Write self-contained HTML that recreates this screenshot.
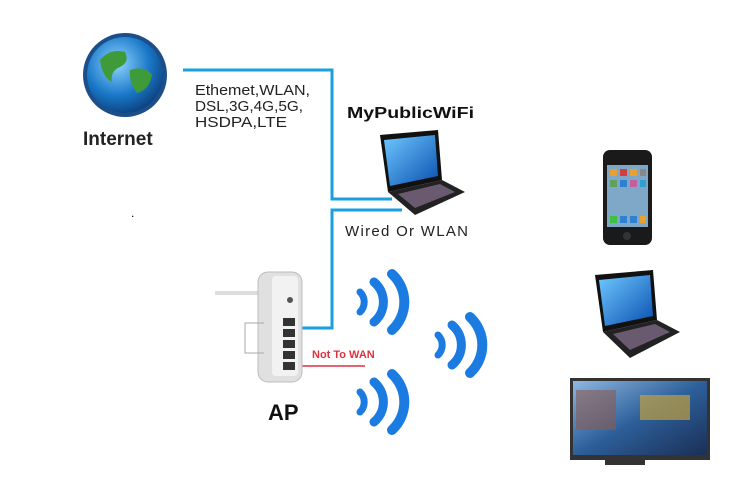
<!DOCTYPE html>
<html><head><style>
body{margin:0;background:#fff;}
svg{display:block;font-family:"Liberation Sans",sans-serif;}
</style></head><body>
<svg width="750" height="485" viewBox="0 0 750 485">
<defs>
<radialGradient id="g" cx="0.4" cy="0.35" r="0.7"><stop offset="0" stop-color="#8fd4ff"/><stop offset="0.6" stop-color="#1a78c8"/><stop offset="1" stop-color="#0b3d7a"/></radialGradient>
<linearGradient id="scr" x1="0" y1="0" x2="1" y2="1"><stop offset="0" stop-color="#6ec8ff"/><stop offset="1" stop-color="#0a4fb0"/></linearGradient>
<linearGradient id="tv" x1="0" y1="0" x2="1" y2="1"><stop offset="0" stop-color="#8fb8e0"/><stop offset="0.5" stop-color="#2d5f9a"/><stop offset="1" stop-color="#1a2f55"/></linearGradient>
</defs>
<circle cx="125" cy="75" r="42" fill="#1c4f8a"/>
<circle cx="125" cy="75" r="38" fill="url(#g)"/>
<path d="M100 60 q10-12 25-8 q5 10-5 15 q-10 4-8 15 q-10-5-12-22z M130 70 q15-5 22 5 q-3 15-15 18 q-8-10-7-23z" fill="#3f9a3a"/>
<text x="83" y="145" font-size="19" font-weight="bold" fill="#222">Internet</text>
<polyline points="183,70 332,70 332,199 392,199" fill="none" stroke="#1aa0e0" stroke-width="3"/>
<polyline points="402,210 332,210 332,328 290,328" fill="none" stroke="#1aa0e0" stroke-width="3"/>
<line x1="290" y1="366" x2="365" y2="366" stroke="#e03040" stroke-width="1.5"/>
<g font-size="15" fill="#222">
<text x="195" y="95" textLength="115" lengthAdjust="spacingAndGlyphs">Ethemet,WLAN,</text>
<text x="195" y="111" textLength="108" lengthAdjust="spacingAndGlyphs">DSL,3G,4G,5G,</text>
<text x="195" y="127" textLength="92" lengthAdjust="spacingAndGlyphs">HSDPA,LTE</text>
</g>
<text x="347" y="118" font-size="16" font-weight="bold" fill="#111" textLength="127" lengthAdjust="spacingAndGlyphs">MyPublicWiFi</text>
<text x="345" y="236" font-size="15" fill="#222" textLength="123" lengthAdjust="spacing">Wired  Or  WLAN</text>
<text x="131" y="217" font-size="12">.</text>
<g transform="translate(370,130)">
<polygon points="10,5 68,0 72,50 18,62" fill="#111"/>
<polygon points="14,10 65,5 68,46 20,56" fill="url(#scr)"/>
<polygon points="18,62 72,50 95,62 45,85" fill="#222"/>
<polygon points="28,64 70,54 85,62 45,78" fill="#6a5a70"/>
</g>
<g transform="translate(585,270)">
<polygon points="10,5 68,0 72,50 18,62" fill="#111"/>
<polygon points="14,10 65,5 68,46 20,56" fill="url(#scr)"/>
<polygon points="18,62 72,50 95,62 45,88" fill="#222"/>
<polygon points="28,64 70,54 85,62 45,80" fill="#6a5a70"/>
</g>
<rect x="603" y="150" width="49" height="95" rx="7" fill="#1a1a1a"/>
<rect x="607" y="165" width="41" height="62" fill="#7fa8c8"/>
<g fill="#e8a030"><rect x="610" y="169" width="7" height="7"/><rect x="620" y="169" width="7" height="7" fill="#d04040"/><rect x="630" y="169" width="7" height="7"/><rect x="640" y="169" width="6" height="7" fill="#888"/>
<rect x="610" y="180" width="7" height="7" fill="#60a060"/><rect x="620" y="180" width="7" height="7" fill="#3080d0"/><rect x="630" y="180" width="7" height="7" fill="#c060a0"/><rect x="640" y="180" width="6" height="7" fill="#30a0d0"/>
<rect x="610" y="216" width="7" height="7" fill="#40c040"/><rect x="620" y="216" width="7" height="7" fill="#3080d0"/><rect x="630" y="216" width="7" height="7" fill="#3080d0"/><rect x="640" y="216" width="6" height="7"/></g>
<circle cx="627" cy="236" r="4" fill="#333"/>
<rect x="570" y="378" width="140" height="82" fill="#333"/>
<rect x="573" y="381" width="134" height="74" fill="url(#tv)"/>
<rect x="640" y="395" width="50" height="25" fill="#c0a040" opacity="0.7"/>
<rect x="576" y="390" width="40" height="40" fill="#8a5a50" opacity="0.6"/>
<rect x="605" y="460" width="40" height="5" fill="#333"/>
<line x1="215" y1="293" x2="275" y2="293" stroke="#ddd" stroke-width="4"/>
<rect x="258" y="272" width="44" height="110" rx="10" fill="#e0e0e0" stroke="#bbb"/>
<rect x="272" y="276" width="26" height="100" rx="4" fill="#f2f2f2"/>
<circle cx="290" cy="300" r="3" fill="#555"/>
<g fill="#333"><rect x="283" y="318" width="12" height="8"/><rect x="283" y="329" width="12" height="8"/><rect x="283" y="340" width="12" height="8"/><rect x="283" y="351" width="12" height="8"/><rect x="283" y="362" width="12" height="8"/></g>
<polyline points="264,323 245,323 245,353 264,353" fill="none" stroke="#aaa"/>
<text x="268" y="420" font-size="22" font-weight="bold" fill="#111">AP</text>
<text x="312" y="358" font-size="11" font-weight="bold" fill="#e03040">Not To WAN</text>
<g fill="none" stroke="#1c7be0" stroke-linecap="round">
<g transform="translate(352,302)"><path d="M8 -10 a14 14 0 0 1 0 20" stroke-width="7"/><path d="M22 -20 a26 26 0 0 1 0 40" stroke-width="9"/><path d="M40 -28 a38 38 0 0 1 0 56" stroke-width="10"/></g>
<g transform="translate(430,345)"><path d="M8 -10 a14 14 0 0 1 0 20" stroke-width="7"/><path d="M22 -20 a26 26 0 0 1 0 40" stroke-width="9"/><path d="M40 -28 a38 38 0 0 1 0 56" stroke-width="10"/></g>
<g transform="translate(352,402)"><path d="M8 -10 a14 14 0 0 1 0 20" stroke-width="7"/><path d="M22 -20 a26 26 0 0 1 0 40" stroke-width="9"/><path d="M40 -28 a38 38 0 0 1 0 56" stroke-width="10"/></g>
</g>
</svg>
</body></html>
